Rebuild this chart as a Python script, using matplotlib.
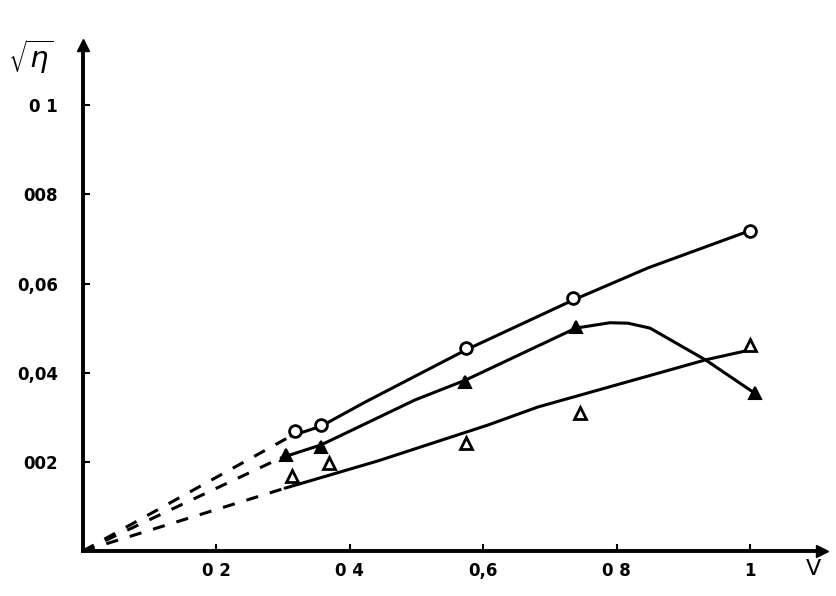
import numpy as np
import matplotlib.pyplot as plt

# measured points
v_circ = [0.318, 0.357, 0.574, 0.735, 1.0]
eta_circ = [0.0269, 0.0283, 0.0455, 0.0567, 0.0717]

v_tri_f = [0.304, 0.357, 0.573, 0.739, 1.007]
eta_tri_f = [0.0215, 0.0233, 0.0379, 0.0502, 0.0354]

v_tri_o = [0.313, 0.369, 0.574, 0.745, 1.0]
eta_tri_o = [0.0168, 0.0197, 0.0242, 0.0309, 0.0462]

# hand drawn curves
c1_v = [0.312, 0.357, 0.423, 0.574, 0.735, 0.847, 0.997]
c1_eta = [0.0258, 0.0280, 0.0334, 0.0451, 0.0563, 0.0635, 0.0717]

c2_v = [0.297, 0.357, 0.498, 0.573, 0.739, 0.790, 0.817, 0.850, 0.934, 1.007]
c2_eta = [0.0209, 0.0238, 0.0339, 0.0383, 0.0500, 0.0512, 0.0511, 0.0500, 0.0428, 0.0354]

c3_v = [0.303, 0.442, 0.608, 0.682, 0.934, 1.0]
c3_eta = [0.0141, 0.0202, 0.0283, 0.0323, 0.0429, 0.0451]

x_ticks = [0.2, 0.4, 0.6, 0.8, 1.0]
x_labels = ["0 2", "0 4", "0,6", "0 8", "1"]
y_ticks = [0.02, 0.04, 0.06, 0.08, 0.1]
y_labels = ["002", "0,04", "0,06", "008", "0 1"]

fig = plt.figure(figsize=(8.36, 5.96), dpi=100)
ax = fig.add_axes([0.0993, 0.0755, 0.884, 0.849])
ax.set_xlim(0, 1.108)
ax.set_ylim(0, 0.1135)

lw = 2.2
for cv, ce in [(c1_v, c1_eta), (c2_v, c2_eta), (c3_v, c3_eta)]:
    ax.plot(cv, ce, color="black", lw=lw, solid_capstyle="round")
    # dashed extrapolation to the origin
    ax.plot([0, cv[0]], [0, ce[0]], color="black", lw=lw, ls=(0, (4, 4)))

ax.plot(v_circ, eta_circ, "o", ms=8.5, mfc="white", mec="black", mew=2)
ax.plot(v_tri_f, eta_tri_f, "^", ms=9, mfc="black", mec="black", mew=1.5)
ax.plot(v_tri_o, eta_tri_o, "^", ms=9, mfc="white", mec="black", mew=2)

for s in ["top", "right"]:
    ax.spines[s].set_visible(False)
for s in ["left", "bottom"]:
    ax.spines[s].set_linewidth(2.8)

# arrow heads on the axes
ax.plot(1, 0, ">k", ms=8, transform=ax.get_yaxis_transform(), clip_on=False)
ax.plot(0, 1, "^k", ms=8, transform=ax.get_xaxis_transform(), clip_on=False)

ax.set_xticks(x_ticks)
ax.set_xticklabels(x_labels, fontsize=12, fontweight="bold")
ax.set_yticks(y_ticks)
ax.set_yticklabels(y_labels, fontsize=12, fontweight="bold")
ax.tick_params(axis="x", direction="in", length=5, width=1.5, pad=8)
ax.tick_params(axis="y", direction="in", length=5, width=1.5, pad=18)

ax.text(-0.113, 0.1108, "$\\sqrt{\\eta}$", fontsize=21, ha="left", va="center",
        clip_on=False)
ax.text(1.095, -0.004, "V", fontsize=16, ha="center", va="center", clip_on=False)

fig.savefig("out.png", dpi=100)
